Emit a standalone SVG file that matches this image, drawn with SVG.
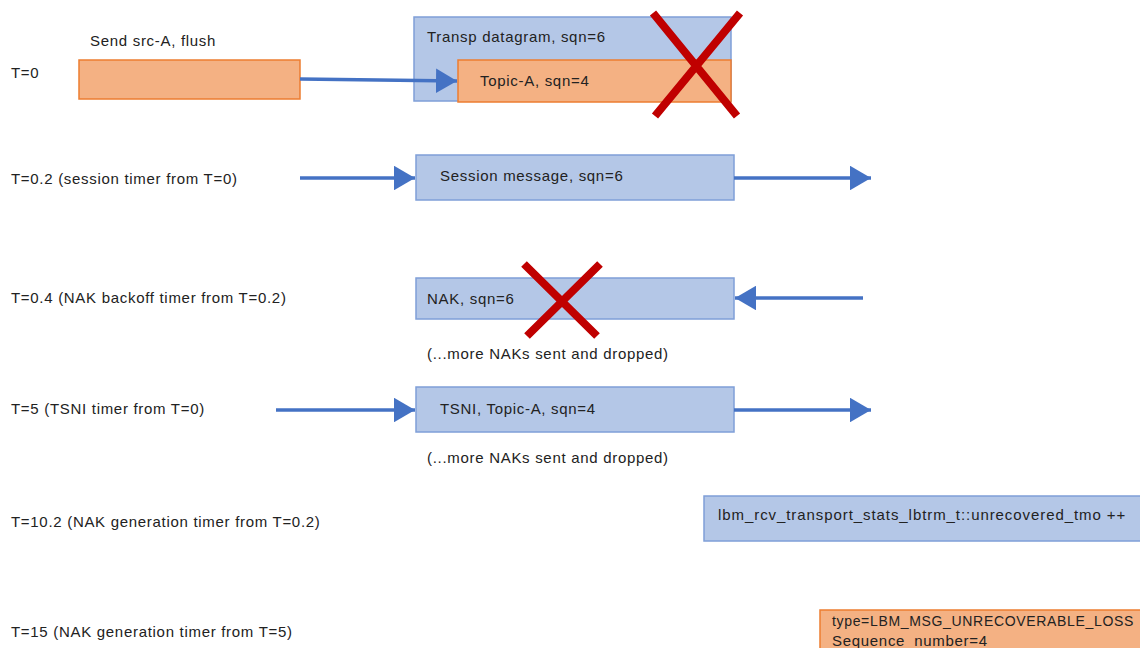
<svg xmlns="http://www.w3.org/2000/svg" width="1140" height="648" viewBox="0 0 1140 648">
<style>
text{font-family:"Liberation Sans",Arial,sans-serif;font-size:15px;letter-spacing:0.7px;fill:#222}
.blue{fill:#B4C7E7;stroke:#7F9FD8;stroke-width:1.5}
.org{fill:#F4B183;stroke:#ED7D31;stroke-width:1.5}
.arr{stroke:#4472C4;stroke-width:3.5;fill:none;marker-end:url(#ah)}
.x{stroke:#C00000;stroke-width:8;stroke-linecap:butt}
</style>
<defs>
<marker id="ah" markerWidth="6" markerHeight="7" refX="6" refY="3.5" orient="auto" markerUnits="strokeWidth">
<path d="M0,0 L6,3.5 L0,7 Z" fill="#4472C4"/>
</marker>
</defs>
<rect width="1140" height="648" fill="#fff"/>
<g id="labels">
<text x="11" y="78">T=0</text>
<text x="11" y="184">T=0.2 (session timer from T=0)</text>
<text x="11" y="303">T=0.4 (NAK backoff timer from T=0.2)</text>
<text x="11" y="414">T=5 (TSNI timer from T=0)</text>
<text x="11" y="527">T=10.2 (NAK generation timer from T=0.2)</text>
<text x="11" y="637">T=15 (NAK generation timer from T=5)</text>
<text x="90" y="46">Send src-A, flush</text>
<text x="427" y="359">(...more NAKs sent and dropped)</text>
<text x="427" y="463">(...more NAKs sent and dropped)</text>
</g>
<g id="send"><rect class="org" x="79" y="60" width="221" height="39"/></g>
<g id="datagram">
<rect class="blue" x="414" y="17" width="317" height="84"/>
<text x="427" y="42">Transp datagram, sqn=6</text>
</g>
<g id="topic">
<rect class="org" x="458" y="60" width="273" height="42"/>
<text x="480" y="86">Topic-A, sqn=4</text>
</g>
<g id="session">
<rect class="blue" x="416" y="155" width="318" height="45"/>
<text x="440" y="181">Session message, sqn=6</text>
</g>
<g id="nak">
<rect class="blue" x="416" y="278" width="318" height="41"/>
<text x="427" y="304">NAK, sqn=6</text>
</g>
<g id="tsni">
<rect class="blue" x="416" y="387" width="318" height="45"/>
<text x="440" y="414">TSNI, Topic-A, sqn=4</text>
</g>
<g id="stats">
<rect class="blue" x="704" y="496" width="440" height="45"/>
<text x="718" y="520" textLength="408" lengthAdjust="spacing">lbm_rcv_transport_stats_lbtrm_t::unrecovered_tmo ++</text>
</g>
<g id="loss">
<rect class="org" x="820" y="610" width="324" height="42"/>
<text x="832" y="626" textLength="302" lengthAdjust="spacingAndGlyphs">type=LBM_MSG_UNRECOVERABLE_LOSS</text>
<text x="832" y="646">Sequence_number=4</text>
</g>
<g id="connectors">
<path class="arr" d="M300,79 L457,81"/>
<path class="arr" d="M300,178 L415,178"/>
<path class="arr" d="M734,178 L871,178"/>
<path class="arr" d="M863,298 L735,298"/>
<path class="arr" d="M276,410 L415,410"/>
<path class="arr" d="M734,410 L871,410"/>
</g>
<g id="crosses">
<path class="x" d="M653,13 L737,116 M740,13 L655,116"/>
<path class="x" d="M524,264 L597,336 M600,264 L527,336"/>
</g>
</svg>
